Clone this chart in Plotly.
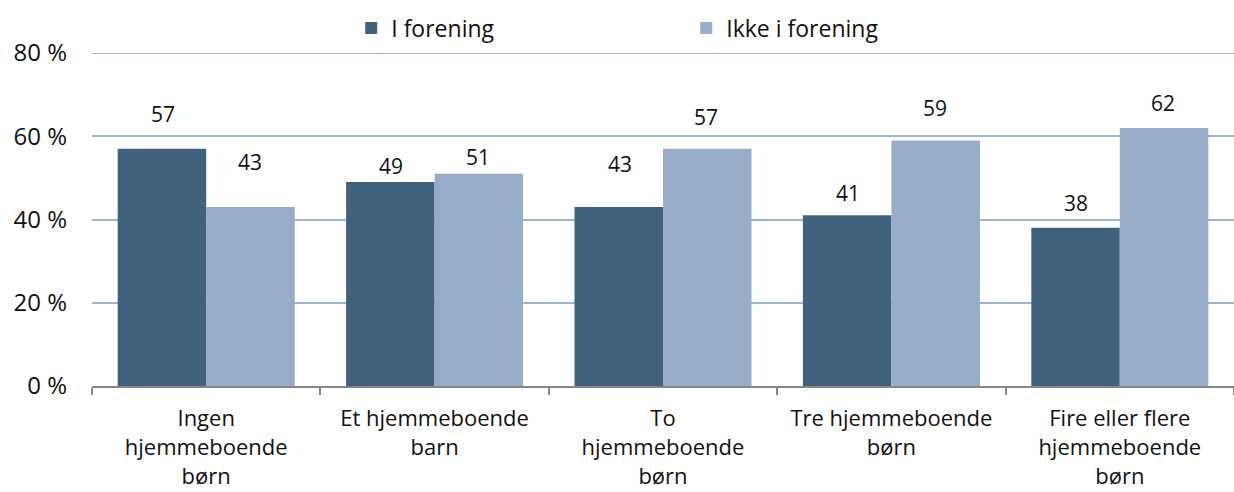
import plotly.graph_objects as go

categories = [
    "Ingen<br>hjemmeboende<br>børn",
    "Et hjemmeboende<br>barn",
    "To<br>hjemmeboende<br>børn",
    "Tre hjemmeboende<br>børn",
    "Fire eller flere<br>hjemmeboende<br>børn",
]
i_forening = [57, 49, 43, 41, 38]
ikke_i_forening = [43, 51, 57, 59, 62]
y_ticks = [0, 20, 40, 60, 80]
y_tick_text = ["0 %", "20 %", "40 %", "60 %", "80 %"]

# label gaps above each bar, in pixels
shift_dark = [35, 16, 43, 22, 25]
shift_light = [45, 17, 32, 32, 25]

DARK = "#41627F"
LIGHT = "#97ACC8"
GRID = "#9BB5D2"
FONT = "Open Sans"
TEXT = "#111111"

fig = go.Figure()
fig.add_trace(go.Bar(name="I forening", x=categories, y=i_forening,
                     marker=dict(color=DARK, line=dict(width=0)), offsetgroup="a"))
fig.add_trace(go.Bar(name="Ikke i forening", x=categories, y=ikke_i_forening,
                     marker=dict(color=LIGHT, line=dict(width=0)), offsetgroup="b"))

annotations = []
for i, cat in enumerate(categories):
    for val, sh, off in ((i_forening[i], shift_dark[i], -0.19),
                         (ikke_i_forening[i], shift_light[i], 0.19)):
        annotations.append(dict(
            x=i + off, y=val, xref="x", yref="y", text=str(val),
            showarrow=False, yshift=sh, yanchor="middle",
            font=dict(family=FONT, size=21, color=TEXT)))

# top gridline sits on the edge of the value range
fig.add_shape(type="line", xref="paper", yref="y", x0=0, x1=1, y0=y_ticks[-1], y1=y_ticks[-1],
              line=dict(color=GRID, width=2), layer="below")

fig.update_layout(
    width=1234, height=492,
    margin=dict(l=92, r=0, t=53, b=106, autoexpand=False),
    paper_bgcolor="white", plot_bgcolor="white",
    barmode="group", bargap=0.225, bargroupgap=0,
    font=dict(family=FONT, size=21, color=TEXT),
    legend=dict(orientation="h", x=0.227, xanchor="left", y=1.075, yanchor="middle",
                entrywidth=290, entrywidthmode="pixels",
                font=dict(family=FONT, size=23, color=TEXT),
                itemwidth=30, traceorder="normal"),
    annotations=annotations,
    xaxis=dict(type="category", tickson="boundaries", ticks="outside", ticklen=7,
               tickcolor="#868686", tickwidth=2, showline=True, linecolor="#868686",
               linewidth=2, showgrid=False, ticklabelstandoff=12,
               tickfont=dict(family=FONT, size=22, color=TEXT)),
    yaxis=dict(range=[0, 80], tickmode="array", tickvals=y_ticks, ticktext=y_tick_text,
               showgrid=True, gridcolor=GRID, gridwidth=2,
               zeroline=False, showline=False, ticks="", ticklabelstandoff=24,
               tickfont=dict(family=FONT, size=24, color=TEXT)),
)

fig.write_html("out.html")
